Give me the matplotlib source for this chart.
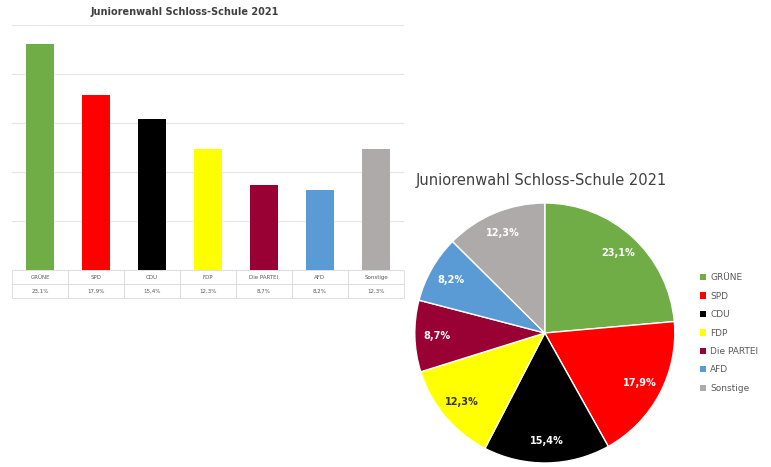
import matplotlib.pyplot as plt
from matplotlib.patches import Patch

# Juniorenwahl Schloss-Schule 2021 - results in percent
parteien = ["GRÜNE", "SPD", "CDU", "FDP", "Die PARTEI", "AFD", "Sonstige"]
anteile = [23.1, 17.9, 15.4, 12.3, 8.7, 8.2, 12.3]
farben = ["#70AD47", "#FF0000", "#000000", "#FFFF00", "#990033", "#5B9BD5", "#AEAAAA"]
label_farben = ["white", "white", "white", "#333333", "white", "white", "white"]
titel = "Juniorenwahl Schloss-Schule 2021"

def fmt(v):
    return f"{v:.1f}%".replace(".", ",")

fig = plt.figure(figsize=(7.71, 4.67), dpi=100)

# --- bar chart with data table (left) ---
ax = fig.add_axes([0.0156, 0.4218, 0.5084, 0.5247])
x = range(len(parteien))
ax.bar(x, anteile, width=0.5, color=farben, zorder=3)
ax.set_xlim(-0.5, len(parteien) - 0.5)
ax.set_ylim(0, 25)
ax.set_yticks([0, 5, 10, 15, 20, 25])
ax.set_xticks([])
ax.tick_params(left=False, labelleft=False)
ax.grid(axis="y", color="#e6e6e6", linewidth=0.8, zorder=0)
for s in ax.spines.values():
    s.set_visible(False)

tab = ax.table(cellText=[parteien, [fmt(v) for v in anteile]],
               cellLoc="center", bbox=[0, -0.115, 1, 0.115])
tab.auto_set_font_size(False)
tab.set_fontsize(4)
for cell in tab.get_celld().values():
    cell.set_edgecolor("#d9d9d9")
    cell.set_linewidth(0.6)
    cell.get_text().set_color("#595959")

fig.text(185 / 771, 1 - 12 / 467, titel, ha="center", va="center",
         fontsize=7, fontweight="bold", color="#404040")

# --- pie chart (right) ---
ax2 = fig.add_axes([0.538, 0.0086, 0.3372, 0.5567])
wedges, texts, autotexts = ax2.pie(
    anteile, colors=farben, startangle=90, counterclock=False,
    autopct="%1.1f%%", pctdistance=0.83,
    wedgeprops=dict(edgecolor="white", linewidth=1))
for t, v, c in zip(autotexts, anteile, label_farben):
    t.set_text(fmt(v))
    t.set_color(c)
    t.set_fontsize(7)
    t.set_fontweight("bold")
ax2.set_xlim(-1, 1)
ax2.set_ylim(-1, 1)
ax2.set_aspect("equal")

fig.text(541 / 771, 1 - 180 / 467, titel, ha="center", va="center",
         fontsize=10.5, color="#404040")

handles = [Patch(facecolor=c, label=p) for c, p in zip(farben, parteien)]
leg = fig.legend(handles=handles, loc="center left",
                 bbox_to_anchor=(692 / 771, 1 - 333 / 467), frameon=False,
                 fontsize=6.5, handlelength=0.7, handleheight=0.7,
                 handletextpad=0.4, labelspacing=1.05)
for t in leg.get_texts():
    t.set_color("#595959")

fig.savefig("out.png", dpi=100)
